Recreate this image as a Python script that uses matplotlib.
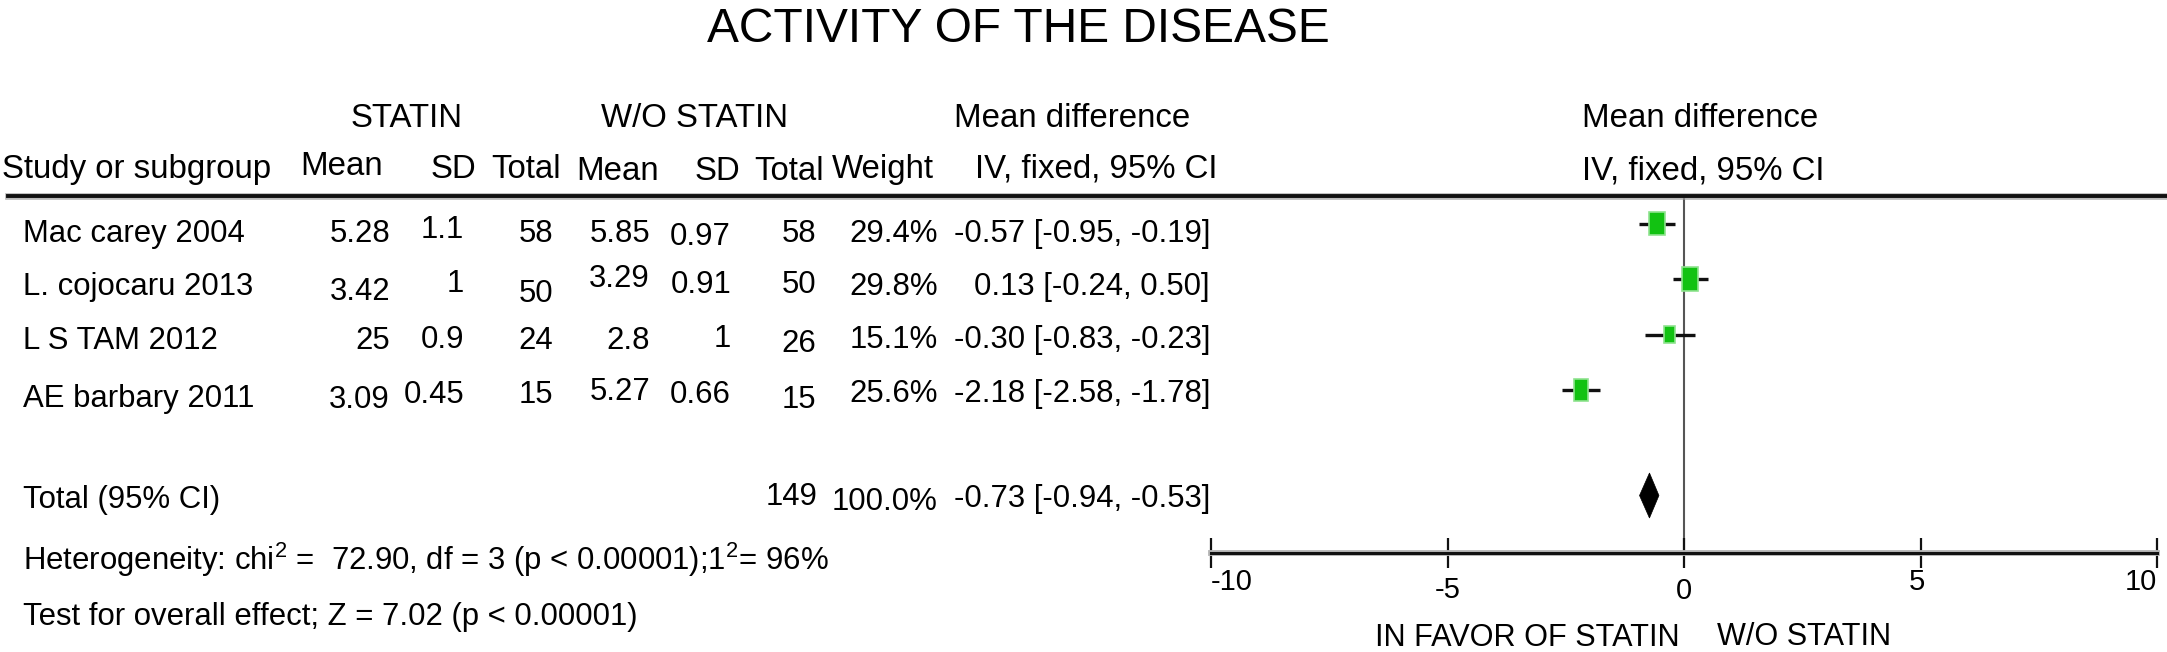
import matplotlib
matplotlib.use("Agg")
import matplotlib.pyplot as plt
import matplotlib.transforms as mtransforms
import matplotlib.patheffects as pe
from matplotlib.patches import Rectangle, Polygon
from matplotlib.lines import Line2D

# ---- data ----
studies = ["Mac carey 2004", "L. cojocaru 2013", "L S TAM 2012", "AE barbary 2011"]
statin_mean = [5.28, 3.42, 25, 3.09]
statin_sd = [1.1, 1, 0.9, 0.45]
statin_n = [58, 50, 24, 15]
wo_mean = [5.85, 3.29, 2.8, 5.27]
wo_sd = [0.97, 0.91, 1, 0.66]
wo_n = [58, 50, 26, 15]
weights = [29.4, 29.8, 15.1, 25.6]
md = [-0.57, 0.13, -0.30, -2.18]
ci_lo = [-0.95, -0.24, -0.83, -2.58]
ci_hi = [-0.19, 0.50, -0.23, -1.78]          # as printed
ci_hi_drawn = [-0.19, 0.50, 0.23, -1.78]     # as drawn (line of row 3 crosses 0)

total_n = 149
total_weight = 100.0
total_md = -0.73
total_lo = -0.94
total_hi = -0.53

ticks = [-10, -5, 0, 5, 10]

# ---- layout (pixels, from top-left) ----
W, H = 2167, 652


def fx(x):
    return x / W


def fy(y):
    return 1 - y / H


plt.rcParams["font.family"] = ["Liberation Sans", "DejaVu Sans"]
plt.rcParams["mathtext.fontset"] = "custom"
plt.rcParams["mathtext.rm"] = "Liberation Sans"

fig = plt.figure(figsize=(W / 100, H / 100), dpi=100)

FS_TITLE = 34.5
FS_HEAD = 23.8
FS_BODY = 22.4
FS_TICK = 21

# title
fig.text(fx(1018), fy(42), "ACTIVITY OF THE DISEASE", ha="center", va="baseline", fontsize=FS_TITLE)

# header line 1
for s, x in [("STATIN", 407), ("W/O STATIN", 695), ("Mean difference", 1072), ("Mean difference", 1700)]:
    fig.text(fx(x), fy(127), s, ha="center", va="baseline", fontsize=FS_HEAD)

# header line 2
head2 = [
    ("Study or subgroup", 2, 178, "left"),
    ("Mean", 342, 175, "center"),
    ("SD", 476, 178, "right"),
    ("Total", 561, 178, "right"),
    ("Mean", 618, 180, "center"),
    ("SD", 740, 180, "right"),
    ("Total", 824, 180, "right"),
    ("Weight", 883, 178, "center"),
    ("IV, fixed, 95% CI", 1096, 178, "center"),
    ("IV, fixed, 95% CI", 1703, 179, "center"),
]
for s, x, y, ha in head2:
    fig.text(fx(x), fy(y), s, ha=ha, va="baseline", fontsize=FS_HEAD)

# thick rule under the header
fig.add_artist(Line2D([fx(8), fx(W)], [fy(195.5), fy(195.5)], color="#9a9a9a", lw=4.8, alpha=0.7))
fig.add_artist(Line2D([fx(8), fx(W)], [fy(195.5), fy(195.5)], color="#111111", lw=2.8))

# table columns: right edges (name is left aligned)
col_x = [23, 390, 464, 553, 650, 731, 816, 938, 1210]
# baselines of each cell (the source picture is a bit uneven)
row_base = [
    [242, 242, 238, 242, 242, 245, 242, 242, 242],
    [295, 300, 292, 302, 287, 293, 293, 295, 295],
    [349, 349, 348, 349, 349, 347, 352, 348, 348],
    [407, 408, 403, 403, 400, 403, 408, 402, 402],
]

for i in range(len(studies)):
    cells = [
        studies[i],
        f"{statin_mean[i]:g}",
        f"{statin_sd[i]:g}",
        f"{statin_n[i]}",
        f"{wo_mean[i]:g}",
        f"{wo_sd[i]:g}",
        f"{wo_n[i]}",
        f"{weights[i]:.1f}%",
        f"{md[i]:.2f} [{ci_lo[i]:.2f}, {ci_hi[i]:.2f}]",
    ]
    for j, s in enumerate(cells):
        fig.text(fx(col_x[j]), fy(row_base[i][j]), s, ha="left" if j == 0 else "right",
                 va="baseline", fontsize=FS_BODY)

# total row
fig.text(fx(23), fy(508), "Total (95% CI)", ha="left", va="baseline", fontsize=FS_BODY)
fig.text(fx(818), fy(505), f"{total_n}", ha="right", va="baseline", fontsize=FS_BODY)
fig.text(fx(938), fy(510), f"{total_weight:.1f}%", ha="right", va="baseline", fontsize=FS_BODY)
fig.text(fx(1210), fy(507), f"{total_md:.2f} [{total_lo:.2f}, {total_hi:.2f}]",
         ha="right", va="baseline", fontsize=FS_BODY)

fig.text(fx(23), fy(570),
         r"Heterogeneity: chi$^{\mathregular{2}}$ =  72.90, df = 3 (p < 0.00001);1$^{\mathregular{2}}$= 96%",
         ha="left", va="baseline", fontsize=FS_BODY)
fig.text(fx(23), fy(625), "Test for overall effect; Z = 7.02 (p < 0.00001)",
         ha="left", va="baseline", fontsize=FS_BODY)

# ---- forest plot ----
row0, row_h = 223.5, 55.5
ax_top, ax_bot = 196, 553
x_left, x_right = 1211, 2157
ax = fig.add_axes([fx(x_left), fy(ax_bot), (x_right - x_left) / W, (ax_bot - ax_top) / H])
ax.set_xlim(-10, 10)
ax.set_ylim((ax_bot - row0) / row_h, (ax_top - row0) / row_h)
ax.patch.set_alpha(0)
for side in ["top", "right", "left"]:
    ax.spines[side].set_visible(False)
ax.spines["bottom"].set_linewidth(2.2)
ax.spines["bottom"].set_color("#111111")
ax.spines["bottom"].set_path_effects([pe.Stroke(linewidth=4.2, foreground="#b5b5b5"), pe.Normal()])
ax.set_yticks([])
ax.set_xticks(ticks)
ax.tick_params(axis="x", direction="inout", length=21, width=1.6, color="#111111", labelbottom=False)

ax.axvline(0, color="#555555", lw=1.5, zorder=1)

px_x = (x_right - x_left) / 20.0
for i in range(len(studies)):
    ax.plot([ci_lo[i], ci_hi_drawn[i]], [i, i], color="#111111", lw=2.4, solid_capstyle="butt", zorder=2)
    k = (weights[i] / 29.8) ** 0.5
    w = 15.5 * k / px_x
    h = 23.5 * k / row_h
    ax.add_patch(Rectangle((md[i] - w / 2, i - h / 2), w, h, facecolor="#12c212",
                           edgecolor="#8fe38f", lw=1.2, zorder=3))

total_y = (495.5 - row0) / row_h
dh = 22.5 / row_h
ax.add_patch(Polygon([(total_lo, total_y), (total_md, total_y - dh), (total_hi, total_y), (total_md, total_y + dh)],
                     closed=True, facecolor="black", edgecolor="black", lw=0.5, zorder=3))

# tick labels (placed by hand like the source)
tb = mtransforms.blended_transform_factory(ax.transData, fig.transFigure)
tick_pos = [("left", 590), ("center", 598), ("center", 599), ("center", 590), ("right", 590)]
for t, (ha, y) in zip(ticks, tick_pos):
    xx = t - 0.08 if t == 5 else t
    ax.text(xx, fy(y), f"{t}", transform=tb, ha=ha, va="baseline", fontsize=FS_TICK)

fig.text(fx(1375), fy(646), "IN FAVOR OF STATIN", ha="left", va="baseline", fontsize=FS_BODY * 0.985)
fig.text(fx(1717), fy(645), "W/O STATIN", ha="left", va="baseline", fontsize=FS_BODY * 0.985)

fig.savefig("out.png", dpi=100)
